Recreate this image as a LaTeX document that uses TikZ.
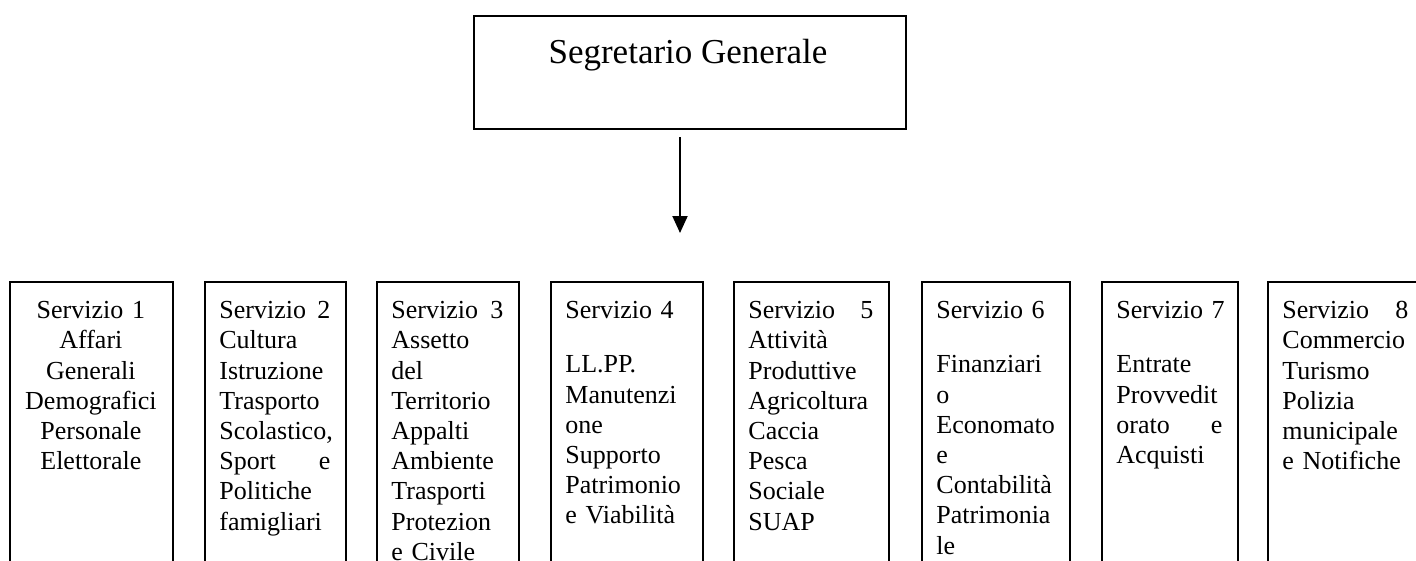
\documentclass[tikz,border=0pt]{standalone}
\usepackage{fontspec}
\setmainfont{Liberation Serif}
\usepackage{tikz}
\usetikzlibrary{arrows.meta}

\newcommand{\svcfont}{\fontsize{13}{15.1}\selectfont}
\newcommand{\spreadline}[2]{#1\hfill #2}

\begin{document}
\begin{tikzpicture}[x=0.5pt,y=0.5pt,yscale=-1,xscale=1,
  box/.style={draw, line width=1.1pt, anchor=north west, inner sep=0pt},
  svctext/.style={anchor=north west, inner sep=0pt, font=\svcfont, align=left},
  arr/.style={line width=1pt, -{Triangle[length=8.5pt,width=7.5pt]}}]
\useasboundingbox (0,0) rectangle (1416,561);

% Segretario Generale
\node[box, minimum width=216pt, minimum height=56.5pt] (seg) at (473,15) {};
\node[anchor=base, inner sep=0pt, font=\fontsize{17.5}{20}\selectfont] (segtxt) at (688,64) {Segretario Generale};
% Arrow
\coordinate (tip) at (680,233);
\draw[arr, shorten <=3.5pt] (seg.south -| tip) -- (tip);

% Servizio 1
\node[box, minimum width=81.5pt, minimum height=150pt] (s1) at (9,281) {};
\node[svctext, align=center, text width=66.5pt] (s1t) at (24,301) {Servizio 1\\Affari\\Generali\\Demografici\\Personale\\Elettorale};
% Servizio 2
\node[box, minimum width=70.5pt, minimum height=150pt] (s2) at (204,281) {};
\node[svctext, text width=55.5pt] (s2t) at (219,301) {\spreadline{Servizio}{2}\\Cultura\\Istruzione\\Trasporto\\Scolastico,\\\spreadline{Sport}{e}\\Politiche\\famigliari};
% Servizio 3
\node[box, minimum width=71pt, minimum height=150pt] (s3) at (376,281) {};
\node[svctext, text width=56pt] (s3t) at (391,301) {\spreadline{Servizio}{3}\\Assetto\\del\\Territorio\\Appalti\\Ambiente\\Trasporti\\Protezion\\e Civile};
% Servizio 4
\node[box, minimum width=76pt, minimum height=150pt] (s4) at (550,281) {};
\node[svctext, text width=61pt] (s4t) at (565,301) {Servizio 4\\[12pt]LL.PP.\\Manutenzi\\one\\Supporto\\Patrimonio\\e Viabilità};
% Servizio 5
\node[box, minimum width=77.5pt, minimum height=150pt] (s5) at (733,281) {};
\node[svctext, text width=62.5pt] (s5t) at (748,301) {\spreadline{Servizio}{5}\\Attività\\Produttive\\Agricoltura\\Caccia\\Pesca\\Sociale\\SUAP};
% Servizio 6
\node[box, minimum width=74pt, minimum height=150pt] (s6) at (921,281) {};
\node[svctext, text width=59pt] (s6t) at (936,301) {Servizio 6\\[12pt]Finanziari\\o\\Economato\\e\\Contabilità\\Patrimonia\\le};
% Servizio 7
\node[box, minimum width=68pt, minimum height=150pt] (s7) at (1101,281) {};
\node[svctext, text width=53pt] (s7t) at (1116,301) {\mbox{Servizio 7}\\[12pt]Entrate\\Provvedit\\\spreadline{orato}{e}\\Acquisti};
% Servizio 8
\node[box, minimum width=78pt, minimum height=150pt] (s8) at (1267,281) {};
\node[svctext, text width=63pt] (s8t) at (1282,301) {\spreadline{Servizio}{8}\\Commercio\\Turismo\\Polizia\\municipale\\e Notifiche};

\end{tikzpicture}
\end{document}
